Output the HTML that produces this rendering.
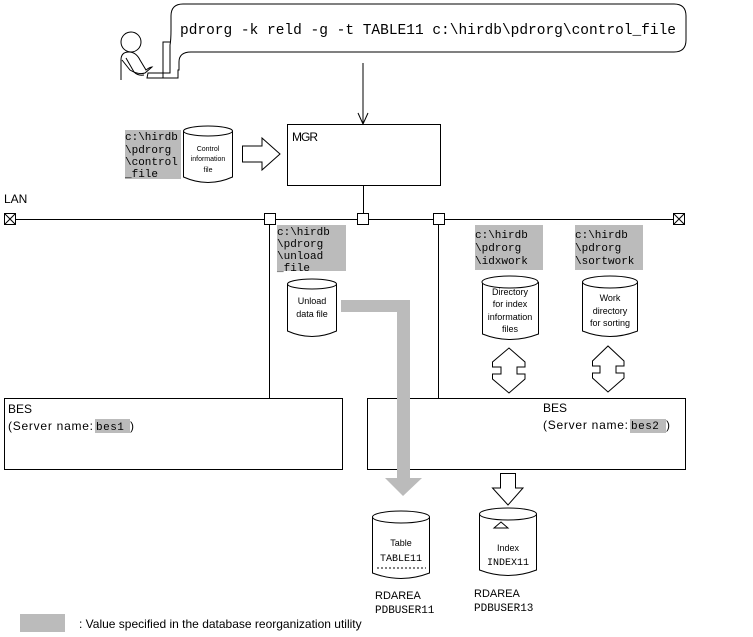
<!DOCTYPE html>
<html><head><meta charset="utf-8"><style>
html,body{margin:0;padding:0;background:#fff;width:753px;height:637px;overflow:hidden}
svg{display:block}
.s{font-family:"Liberation Sans",sans-serif;fill:#000}
.m{font-family:"Liberation Mono",monospace;fill:#000}
</style></head><body>
<svg width="753" height="637" viewBox="0 0 753 637" xmlns="http://www.w3.org/2000/svg">
<g fill="none" stroke="#000" stroke-width="1">
<path d="M183,4 H674 Q686,4 686,16 V40 Q686,52 674,52 H191 Q179,52 179,62 V70 L178,70 V78 H147 L148,73 H170 V45 Q171,40 171,30 V16 Q171,4 183,4 Z" fill="#fff"/>
<circle cx="131" cy="42" r="10"/>
<path d="M121,80 V60 Q121,52 129,52 Q136,52 140,60 L146,70 Q150,67 152,67 L145,73 Q138,75 130,70 L122,60"/>
<path d="M126,58 L134,72 Q138,76 144,75"/>
<path d="M163,78 V42 H170"/>
<line x1="363" y1="63" x2="363" y2="124"/>
<path d="M358,113 L363,124 L368,113"/>
<rect x="287.5" y="124.5" width="153" height="61"/>
<line x1="15" y1="219.5" x2="673" y2="219.5"/>
<rect x="4.5" y="213.5" width="11" height="11"/><path d="M4.5,213.5 L15.5,224.5 M15.5,213.5 L4.5,224.5"/>
<rect x="673.5" y="213.5" width="11" height="11"/><path d="M673.5,213.5 L684.5,224.5 M684.5,213.5 L673.5,224.5"/>
<line x1="363.5" y1="185" x2="363.5" y2="213"/>
<rect x="264.5" y="213.5" width="11" height="11" fill="#fff"/>
<rect x="357.5" y="213.5" width="11" height="11" fill="#fff"/>
<rect x="433.5" y="213.5" width="11" height="11" fill="#fff"/>
<line x1="269.5" y1="225" x2="269.5" y2="398"/>
<line x1="438.5" y1="225" x2="438.5" y2="398"/>
<rect x="4.5" y="398.5" width="338" height="71"/>
<rect x="367.5" y="398.5" width="318" height="71"/>
</g>
<g fill="#bbb">
<rect x="125" y="130" width="56" height="49"/>
<rect x="277" y="225" width="69" height="46"/>
<rect x="475" y="225" width="68" height="45"/>
<rect x="575" y="225" width="68" height="45"/>
<rect x="20" y="614" width="45" height="18"/>
<rect x="95" y="419" width="35" height="14"/>
<rect x="630" y="419" width="36" height="14"/>
<path d="M341,300 H410 V478 H422 L403,496 L385,478 H397 V312 H341 Z"/>
</g>
<g fill="#fff" stroke="#000">
<path d="M183.5,131 V177 Q208,188 232.5,177 V131"/><ellipse cx="208" cy="131" rx="24.5" ry="5"/>
<path d="M287.5,284 V331 Q312,342 336.5,331 V284"/><ellipse cx="312" cy="284" rx="24.5" ry="5"/>
<path d="M482.5,282 V334 Q510,345 538.5,334 V282"/><ellipse cx="510" cy="282" rx="28" ry="6"/>
<path d="M582.5,282 V331 Q610,342 637.5,331 V282"/><ellipse cx="610" cy="282" rx="27.5" ry="6"/>
<path d="M372.5,517 V573 Q401,584 429.5,573 V517"/><ellipse cx="401" cy="517" rx="28.5" ry="6"/>
<path d="M479.5,514 V570 Q508,581 536.5,570 V514"/><ellipse cx="508" cy="514" rx="28.5" ry="6"/>
<path d="M242.5,146 H262 V138 L280,154 L262,170 V162 H242.5 Z"/>
<path d="M492.5,367 V362 L509,348 L525,362 V367 H517 V374 H525 V379 L509,393 L492.5,379 V374 H501 V367 Z"/>
<path d="M592.5,366 V361 L608,346 L624,361 V366 H616 V373 H624 V378 L608,392 L592.5,378 V373 H600 V366 Z"/>
<path d="M500.5,473.5 H515.5 V488 H523 L508,505 L492.5,488 H500.5 Z"/>
<path d="M494,528 L501,522 L508,528 Z"/>
</g>
<line x1="377" y1="568" x2="426" y2="568" stroke="#000" stroke-dasharray="2,2"/>
<text x="180" y="34" class="m" font-size="14.5">pdrorg -k reld -g -t TABLE11 c:\hirdb\pdrorg\control_file</text>
<text x="292" y="141" class="s" font-size="12" letter-spacing="-1">MGR</text>
<g class="m" font-size="11">
<text x="125" y="140">c:\hirdb</text><text x="125" y="153">\pdrorg</text><text x="125" y="165">\control</text><text x="125" y="177">_file</text>
<text x="277" y="235">c:\hirdb</text><text x="277" y="247">\pdrorg</text><text x="277" y="259">\unload</text><text x="277" y="271">_file</text>
<text x="475" y="238">c:\hirdb</text><text x="475" y="251">\pdrorg</text><text x="475" y="264">\idxwork</text>
<text x="575" y="238">c:\hirdb</text><text x="575" y="251">\pdrorg</text><text x="575" y="264">\sortwork</text>
</g>
<g class="s" font-size="7" text-anchor="middle">
<text x="208" y="151">Control</text><text x="208" y="161">information</text><text x="208" y="172">file</text>
</g>
<g class="s" font-size="9" text-anchor="middle">
<text x="312" y="304">Unload</text><text x="312" y="317">data file</text>
<text x="510" y="295">Directory</text><text x="510" y="307">for index</text><text x="510" y="320">information</text><text x="510" y="332">files</text>
<text x="610" y="301">Work</text><text x="610" y="314">directory</text><text x="610" y="326">for sorting</text>
<text x="401" y="546">Table</text>
<text x="508" y="551">Index</text>
</g>
<text x="401" y="561" class="m" font-size="10" text-anchor="middle">TABLE11</text>
<text x="508" y="565" class="m" font-size="10" text-anchor="middle">INDEX11</text>
<text x="4" y="203" class="s" font-size="12">LAN</text>
<g class="s" font-size="12">
<text x="8" y="413">BES</text><text x="8" y="430" textLength="85" lengthAdjust="spacing">(Server name:</text>
<text x="543" y="412">BES</text><text x="543" y="429" textLength="85" lengthAdjust="spacing">(Server name:</text>
<text x="130" y="430">)</text><text x="666" y="429">)</text>
</g>
<text x="96" y="430" class="m" font-size="11" letter-spacing="0.5">bes1</text>
<text x="631" y="429" class="m" font-size="11" letter-spacing="0.5">bes2</text>
<text x="375" y="599" class="s" font-size="11">RDAREA</text>
<text x="375" y="613" class="m" font-size="11">PDBUSER11</text>
<text x="474" y="597" class="s" font-size="11">RDAREA</text>
<text x="474" y="611" class="m" font-size="11">PDBUSER13</text>
<text x="79" y="628" class="s" font-size="12">: Value specified in the database reorganization utility</text>
</svg>
</body></html>
